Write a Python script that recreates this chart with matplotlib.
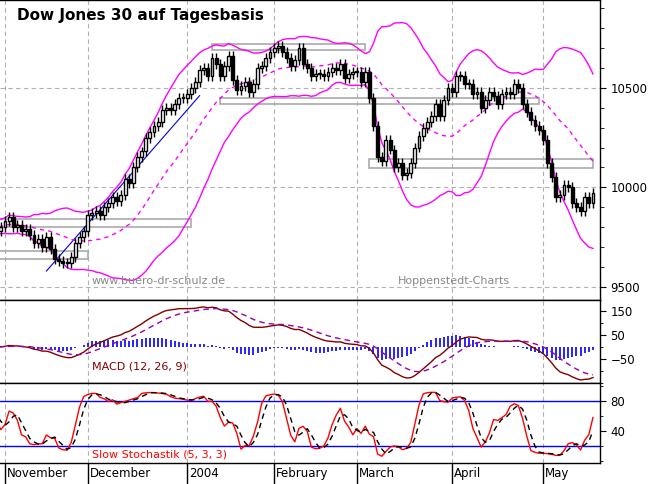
import numpy as np
import pandas as pd
import matplotlib
matplotlib.use("Agg")
import matplotlib.pyplot as plt
from matplotlib.patches import Rectangle

# daily closes (Oct 27 2003 .. May 19 2004)
oct_closes = [9800, 9830, 9810, 9780, 9800]
nov_closes = [9830, 9850, 9800, 9810, 9780, 9790, 9760, 9720, 9740, 9700,
              9750, 9690, 9640, 9630, 9620, 9620, 9650, 9720, 9750, 9780]
dec_closes = [9860, 9870, 9880, 9860, 9900, 9920, 9950, 9930, 9960, 10040,
              10020, 10100, 10150, 10180, 10250, 10280, 10310, 10330, 10390,
              10400, 10390, 10420, 10450]
jan_closes = [10450, 10470, 10500, 10530, 10590, 10600, 10560, 10650, 10620,
              10560, 10610, 10660, 10540, 10490, 10510, 10530, 10480, 10520,
              10600, 10610, 10650, 10680]
feb_closes = [10700, 10710, 10680, 10650, 10610, 10640, 10700, 10620, 10600,
              10560, 10570, 10570, 10560, 10580, 10600, 10590, 10620, 10550,
              10570, 10580]
mar_closes = [10580, 10530, 10580, 10450, 10310, 10150, 10130, 10240, 10190,
              10100, 10120, 10060, 10070, 10120, 10200, 10260, 10300, 10330,
              10360, 10420, 10360, 10440, 10500]
apr_closes = [10480, 10560, 10560, 10520, 10520, 10470, 10480, 10400, 10440,
              10480, 10460, 10420, 10470, 10480, 10470, 10520, 10500, 10420,
              10380, 10340, 10310, 10290]
may_closes = [10240, 10120, 10050, 9950, 9960, 10010, 10000, 9920, 9900,
              9880, 9950, 9920, 9970]

closes = np.array(oct_closes + nov_closes + dec_closes + jan_closes + feb_closes
                  + mar_closes + apr_closes + may_closes, dtype=float)
dates = pd.bdate_range("2003-10-27", periods=len(closes))

month_labels = ["November", "December", "2004", "February", "March", "April", "May"]
month_starts = ["2003-11-03", "2003-12-01", "2004-01-02", "2004-02-02",
                "2004-03-01", "2004-04-01", "2004-05-03"]

# annotation boxes: (start date, end date, low, high)
boxes = [("2003-10-27", "2004-01-05", 9800, 9840),
         ("2003-10-27", "2003-12-01", 9640, 9680),
         ("2004-01-12", "2004-03-03", 10690, 10720),
         ("2004-01-14", "2004-04-30", 10420, 10450),
         ("2004-03-04", "2004-05-19", 10095, 10140)]
trend_dates = ["2003-11-17", "2004-01-07"]
trend_prices = [9580, 10460]

s = pd.Series(closes)
opens = np.r_[closes[0] - 20, closes[:-1]]
highs = np.maximum(opens, closes) + 25
lows = np.minimum(opens, closes) - 25

mid = s.rolling(20, min_periods=1).mean()
sd = s.rolling(20, min_periods=2).std().bfill()
upper, lower = mid + 2 * sd, mid - 2 * sd

ema12 = s.ewm(span=12, adjust=False).mean()
ema26 = s.ewm(span=26, adjust=False).mean()
macd = ema12 - ema26
signal = macd.ewm(span=9, adjust=False).mean()
hist = macd - signal

hh = pd.Series(highs).rolling(5, min_periods=1).max()
ll = pd.Series(lows).rolling(5, min_periods=1).min()
k_fast = 100 * (s - ll) / (hh - ll)
k_slow = k_fast.rolling(3, min_periods=1).mean()
d_slow = k_slow.rolling(3, min_periods=1).mean()

x = np.arange(len(closes))
idx = {d: i for i, d in enumerate(dates)}
def xi(d):
    return idx[pd.Timestamp(d)]

fig = plt.figure(figsize=(6.63, 4.84), dpi=100, facecolor="white")
L, R = 0.0, 600 / 663
def ypos(top, bot):
    return [L, 1 - bot / 484, R - L, (bot - top) / 484]
ax1 = fig.add_axes(ypos(0, 300))
ax2 = fig.add_axes(ypos(300, 383), sharex=ax1)
ax3 = fig.add_axes(ypos(383, 463), sharex=ax1)

mx = [xi(d) for d in month_starts]
for ax in (ax1, ax2, ax3):
    for m in mx:
        ax.axvline(m, color="#b0b0b0", ls=(0, (4, 3)), lw=0.8, zorder=0)
    ax.yaxis.tick_right()
    ax.tick_params(axis="y", labelsize=8.5, length=4, direction="out")
    ax.tick_params(axis="x", bottom=False, labelbottom=False)
    for sp in ax.spines.values():
        sp.set_linewidth(1)
    ax.spines["left"].set_visible(False)

# main panel
for y in (9500, 10000, 10500):
    ax1.axhline(y, color="#b0b0b0", ls=(0, (4, 3)), lw=0.8, zorder=0)
for b in boxes:
    ax1.add_patch(Rectangle((xi(b[0]), b[2]), xi(b[1]) - xi(b[0]), b[3] - b[2],
                            fill=False, ec="#aaaaaa", lw=1.2, zorder=1))
ax1.plot([xi(d) for d in trend_dates], trend_prices, color="#0000dd", lw=0.8, zorder=2)
ax1.plot(x, upper, color="#ff00ff", lw=1, zorder=2)
ax1.plot(x, lower, color="#ff00ff", lw=1, zorder=2)
ax1.plot(x, mid, color="#ff00ff", lw=1, ls=(0, (3, 3)), zorder=2)
for i in x:
    ax1.vlines(i, lows[i], highs[i], color="black", lw=1, zorder=3)
    up = closes[i] >= opens[i]
    bot, h = min(opens[i], closes[i]), max(abs(closes[i] - opens[i]), 4)
    ax1.add_patch(Rectangle((i - 0.35, bot), 0.7, h, fc="white" if up else "black",
                            ec="black", lw=1, zorder=4))
ax1.set_ylim(9435, 10940)
ax1.set_yticks([9500, 10000, 10500])
ax1.set_yticks(np.arange(9500, 10901, 100), minor=True)
ax1.tick_params(axis="y", which="minor", length=3)
ax1.text(8, 10840, "Dow Jones 30 auf Tagesbasis", fontsize=11, fontweight="bold")
ax1.text(26, 9515, "www.buero-dr-schulz.de", fontsize=8, color="#888888")
ax1.text(100, 9515, "Hoppenstedt-Charts", fontsize=8, color="#888888")

# MACD panel
ax2.vlines(x, 0, hist, color="#0000ff", lw=1.2)
ax2.plot(x, macd, color="#800000", lw=1)
ax2.plot(x, signal, color="#9900aa", lw=1, ls=(0, (4, 3)))
ax2.set_ylim(-150, 195)
ax2.set_yticks([-50, 50, 150])
ax2.set_yticks(np.arange(-150, 191, 50), minor=True)
ax2.text(26, -95, "MACD (12, 26, 9)", fontsize=8, color="#800000")

# stochastic panel
ax3.axhline(80, color="#0000ff", lw=1)
ax3.axhline(20, color="#0000ff", lw=1)
ax3.plot(x, k_slow, color="#ff0000", lw=1)
ax3.plot(x, d_slow, color="black", lw=1, ls=(0, (4, 3)))
ax3.set_ylim(-3, 104)
ax3.set_yticks([40, 80])
ax3.set_yticks(np.arange(0, 101, 20), minor=True)
ax3.text(26, 4, "Slow Stochastik (5, 3, 3)", fontsize=8, color="#ff0000")

# month axis: tick lines through label row, labels just right of each tick
ax3.set_xlim(xi("2003-11-03") - 1.2, len(closes) + 0.7)
ax3.set_xticks(mx)
ax3.tick_params(axis="x", bottom=True, labelbottom=False, length=21,
                direction="out", width=1)
for m, lbl in zip(mx, month_labels):
    ax3.annotate(lbl, (m, 0), xycoords=("data", "axes fraction"),
                 xytext=(1.5, -3), textcoords="offset points",
                 ha="left", va="top", fontsize=8.5)

fig.savefig("out.png", dpi=100)
